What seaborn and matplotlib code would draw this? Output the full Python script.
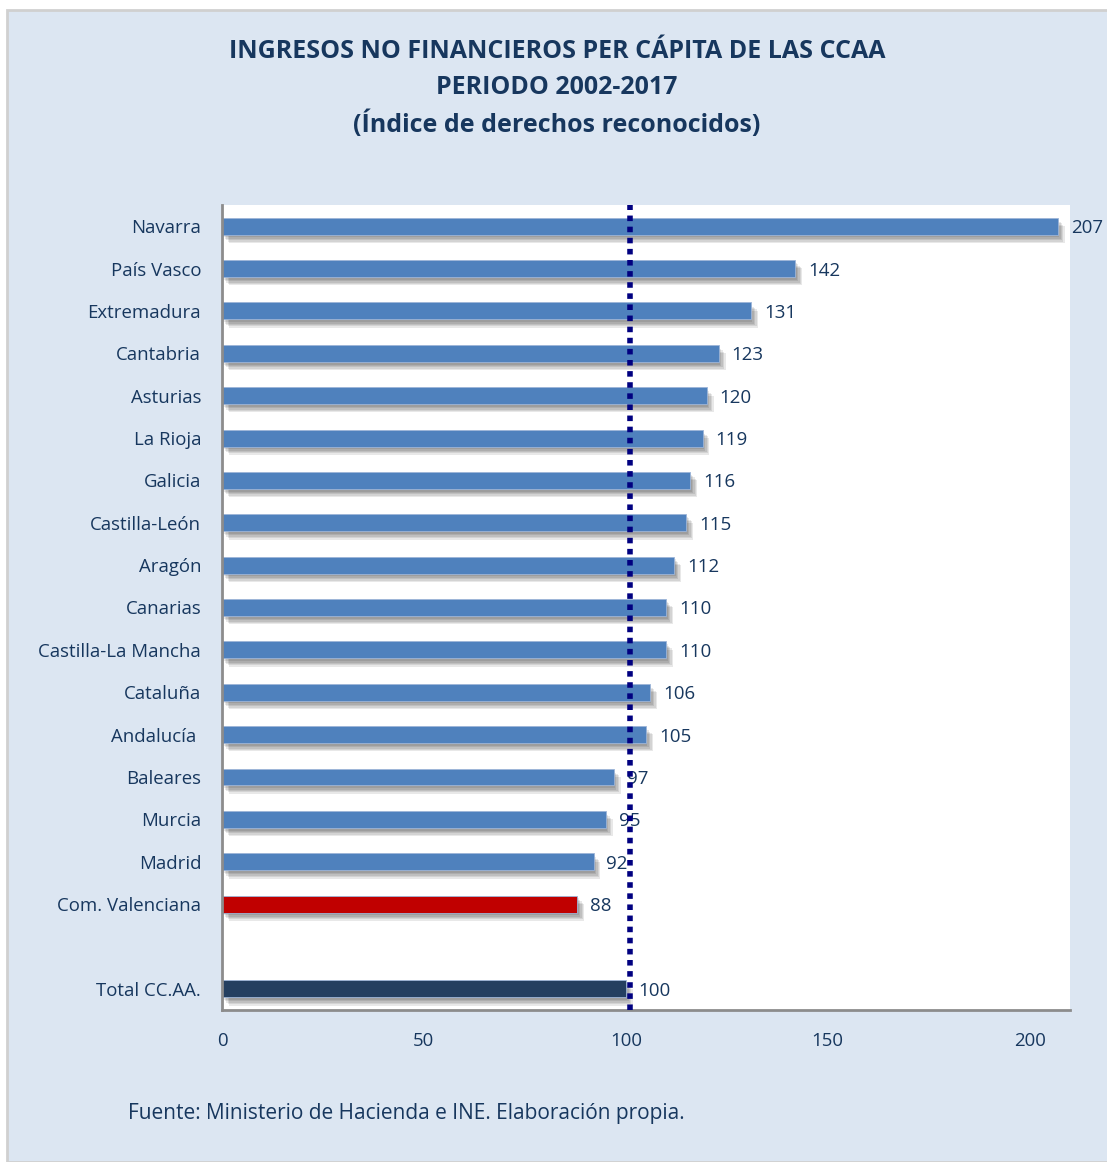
import matplotlib
matplotlib.use("Agg")
import matplotlib.pyplot as plt
import matplotlib.patheffects as pe
from matplotlib.patches import Rectangle
import pandas as pd
import seaborn as sns

# data
regions = ["Navarra", "País Vasco", "Extremadura", "Cantabria", "Asturias",
           "La Rioja", "Galicia", "Castilla-León", "Aragón", "Canarias",
           "Castilla-La Mancha", "Cataluña", "Andalucía ", "Baleares",
           "Murcia", "Madrid", "Com. Valenciana", " ", "Total CC.AA."]
values = [207, 142, 131, 123, 120, 119, 116, 115, 112, 110, 110, 106, 105,
          97, 95, 92, 88, None, 100]
groups = ["ccaa"] * 16 + ["valencia", "blank", "total"]
reference = 101

BG = "#DCE6F2"
TXT = "#17375E"
colors = {"ccaa": "#4F81BD", "valencia": "#C00000", "blank": "#FFFFFF",
          "total": "#243F60"}

df = pd.DataFrame({"region": regions, "value": values, "group": groups})
df = df.dropna()

sns.set_style("white")
plt.rcParams["font.family"] = ["Open Sans", "DejaVu Sans"]

fig = plt.figure(figsize=(11.07, 11.62), dpi=100)
fig.patch.set_facecolor("white")
fig.patches.append(Rectangle((7 / 1107, 0), 1, 1 - 10 / 1162,
                             transform=fig.transFigure, facecolor=BG,
                             edgecolor="#D0D0D0", linewidth=2, zorder=-10))

ax = fig.add_axes([222 / 1107, 1 - 1010 / 1162, 848 / 1107, 805 / 1162])
ax.set_facecolor("white")

sns.barplot(data=df, y="region", x="value", hue="group", order=regions,
            palette=colors, orient="h", width=0.4, dodge=False,
            saturation=1, legend=False, ax=ax)

# soft drop shadow (several faint layers)
shadow = [pe.SimplePatchShadow(offset=(o, -o - 1), shadow_rgbFace="#000000",
                               alpha=0.09) for o in (1, 2, 3, 4, 5)]
shadow.append(pe.Normal())
for p in ax.patches:
    p.set_path_effects(shadow)
    p.set_edgecolor("#9DB5D8")
    p.set_linewidth(0.6)

# data labels
for r, v in zip(df["region"], df["value"]):
    ax.text(v + 3.2, regions.index(r), f"{v:.0f}", va="center_baseline",
            ha="left", fontsize=13.5, color=TXT)

ax.axvline(reference, color="#000080", linestyle=(0, (1, 1)), linewidth=4,
           zorder=5)

ax.set_xlim(0, 210)
ax.set_ylim(len(regions) - 0.5, -0.5)
ax.set_xticks([0, 50, 100, 150, 200])
ax.set_xlabel("")
ax.set_ylabel("")

for s in ["top", "right"]:
    ax.spines[s].set_visible(False)
for s in ["left", "bottom"]:
    ax.spines[s].set_color("#8C8C8C")
    ax.spines[s].set_linewidth(2)

ax.set_yticks([i - 0.5 for i in range(len(regions) + 1)], minor=True)
ax.tick_params(axis="y", which="major", length=0, pad=15, labelsize=13.4,
               labelcolor=TXT)
ax.tick_params(axis="y", which="minor", length=7, width=1.5,
               color="#8C8C8C", direction="out")
ax.tick_params(axis="x", which="major", length=7, width=1.5,
               color="#8C8C8C", direction="out", pad=9, labelsize=13.4,
               labelcolor=TXT)

title_kw = dict(ha="center", va="center", fontsize=18, fontweight="bold",
                color=TXT)
fig.text(557 / 1107, 1 - 52 / 1162,
         "INGRESOS NO FINANCIEROS PER CÁPITA DE LAS CCAA", **title_kw)
fig.text(557 / 1107, 1 - 88 / 1162, "PERIODO 2002-2017", **title_kw)
fig.text(557 / 1107, 1 - 124 / 1162, "(Índice de derechos reconocidos)",
         **title_kw)
fig.text(128 / 1107, 1 - 1113 / 1162,
         "Fuente: Ministerio de Hacienda e INE. Elaboración propia.",
         ha="left", va="center", fontsize=15, color=TXT)

fig.savefig("out.png", dpi=100, facecolor=fig.get_facecolor())
